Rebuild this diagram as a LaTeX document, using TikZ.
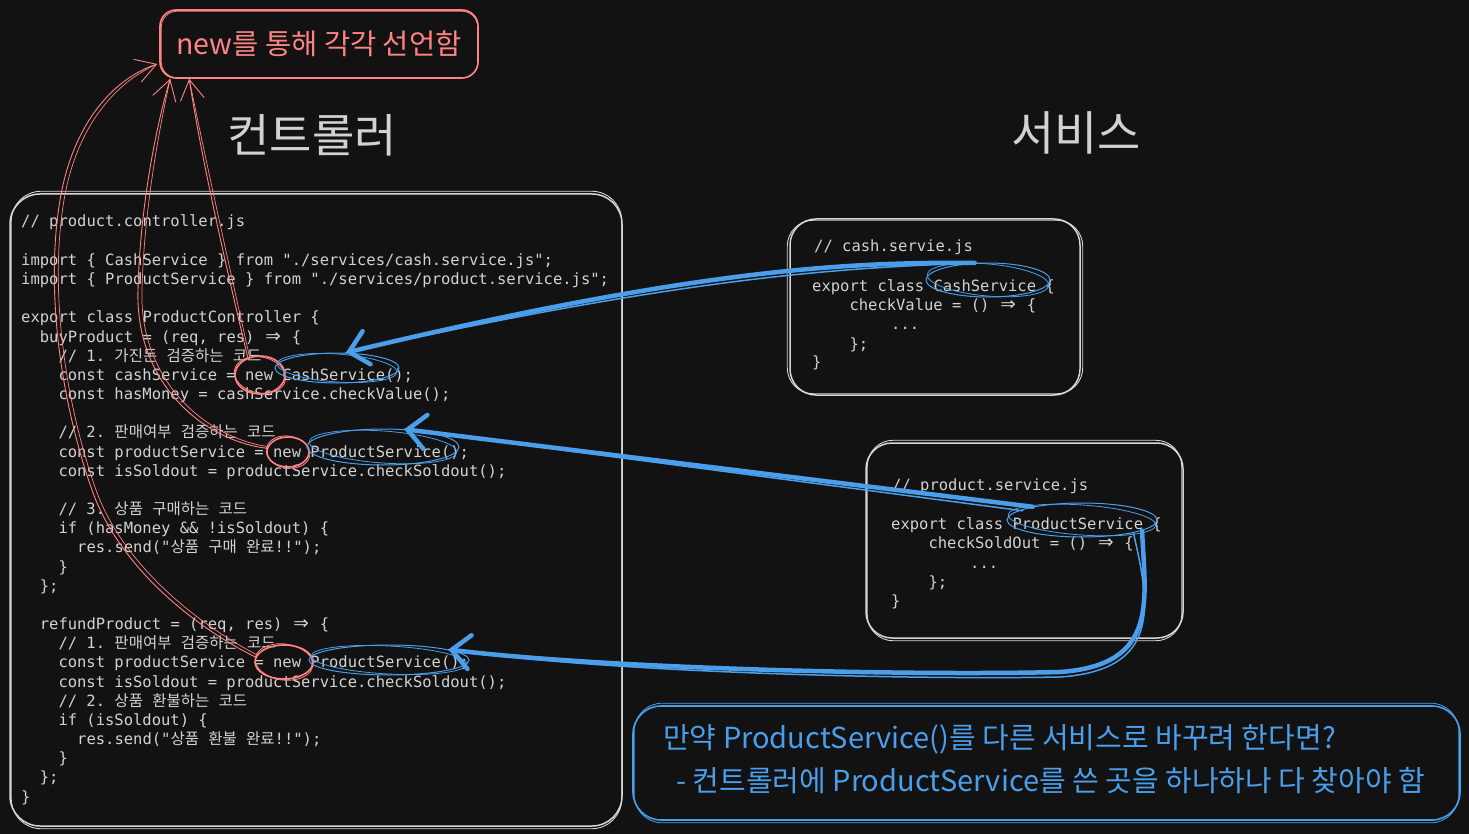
\documentclass[tikz,border=0pt]{standalone}
\usepackage{fontspec}
\usetikzlibrary{arrows.meta,shapes.geometric,calc}
\setmainfont{Noto Sans CJK KR}
\setmonofont{DejaVu Sans Mono}
\newfontfamily\krfont{Noto Sans CJK KR}
\newfontfamily\handfont{Noto Sans CJK KR}
\newfontfamily\symfont{DejaVu Sans}[Scale=1.2]
\newcommand\kr[1]{{\krfont #1}}
\newcommand\darr{\makebox[1.204em]{\symfont ⇒}}
\definecolor{bgcol}{HTML}{121212}
\definecolor{codegray}{HTML}{D2D2D2}
\definecolor{boxgray}{HTML}{D6D6D6}
\definecolor{redc}{HTML}{FF8383}
\definecolor{bluec}{HTML}{4A9EEA}
\tikzset{
  code/.style={font=\ttfamily\fontsize{15.5}{19}\selectfont, text=codegray, anchor=base west, inner sep=0pt},
  panel/.style={draw=boxgray, line width=1.5pt, rectangle, inner sep=0pt},
  panel2/.style={draw=boxgray, line width=0.9pt},
  redring/.style={ellipse, draw=redc, line width=1.6pt, inner sep=0pt},
  bluering/.style={ellipse, draw=bluec, line width=1pt, inner sep=0pt},
  redlink/.style={draw=redc, line width=0.9pt, -{Straight Barb[length=20pt,width=24pt]}},
  redlink2/.style={draw=redc, line width=0.7pt},
  bluelink/.style={draw=bluec, line width=4.5pt, line cap=round, -{Straight Barb[length=18pt,width=34pt,line cap=round]}},
  bluelink2/.style={draw=bluec, line width=1.5pt, line cap=round},
  hand/.style={inner sep=0pt}
}
\begin{document}
\begin{tikzpicture}[x=1pt,y=-1pt]
\fill[bgcol] (0,0) rectangle (1469,834);
\useasboundingbox (0,0) rectangle (1469,834);

% ---------- titles ----------
\node[hand, text=codegray, font=\handfont\fontsize{46}{54}\selectfont] (ctrltitle) at (312,135) {컨트롤러};
\node[hand, text=codegray, font=\handfont\fontsize{47}{54}\selectfont] (svctitle) at (1076,133) {서비스};

\node[draw=redc, line width=1.6pt, rounded corners=16pt, minimum width=318pt, minimum height=68pt, inner sep=0pt,
      text=redc, font=\handfont\fontsize{28.5}{32}\selectfont] (title) at (319,44) {new를 통해 각각 선언함};
\draw[redc, line width=0.8pt, rounded corners=16pt] ($(title.north west)+(2,2)$) rectangle ($(title.south east)+(-1,-1)$);

% ---------- panels ----------
\node[panel, rounded corners=30pt, minimum width=612pt, minimum height=632pt] (ctrl) at (316,510) {};
\draw[panel2, rounded corners=30pt] ($(ctrl.north west)+(2,-2)$) rectangle ($(ctrl.south east)+(-1,2)$);

\node[panel, rounded corners=26pt, minimum width=290pt, minimum height=176pt] (cash) at (935,307) {};
\draw[panel2, rounded corners=26pt] ($(cash.north west)+(-2,2)$) rectangle ($(cash.south east)+(2,-2)$);

\node[panel, rounded corners=26pt, minimum width=317pt, minimum height=195pt] (prod) at (1024.5,540.5) {};
\draw[panel2, rounded corners=26pt] ($(prod.north west)+(2,-2)$) rectangle ($(prod.south east)+(-2,2)$);

\node[draw=bluec, line width=1.6pt, rounded corners=28pt, minimum width=827pt, minimum height=114pt, inner sep=0pt] (note) at (1046.5,763) {};
\draw[bluec, line width=0.8pt, rounded corners=28pt] ($(note.north west)+(2,-2)$) rectangle ($(note.south east)+(-2,2)$);

% ---------- controller code ----------
\node[code] (l00) at (21,227)   {// product.controller.js};
\node[code] (l02) at (21,265.3) {import \{ CashService \} from "./services/cash.service.js";};
\node[code] (l03) at (21,284.5) {import \{ ProductService \} from "./services/product.service.js";};
\node[code] (l05) at (21,322.9) {export class ProductController \{};
\node[code] (l06) at (39.7,342.0) {buyProduct = (req, res) \darr{} \{};
\node[code] (l07) at (58.3,361.2) {// 1. \kr{가진돈} \kr{검증하는} \kr{코드}};
\node[code] (l08) at (58.3,380.4) {const cashService = new CashService();};
\node[code] (l09) at (58.3,399.5) {const hasMoney = cashService.checkValue();};
\node[code] (l11) at (58.3,437.9) {// 2. \kr{판매여부} \kr{검증하는} \kr{코드}};
\node[code] (l12) at (58.3,457.0) {const productService = new ProductService();};
\node[code] (l13) at (58.3,476.2) {const isSoldout = productService.checkSoldout();};
\node[code] (l15) at (58.3,514.6) {// 3. \kr{상품} \kr{구매하는} \kr{코드}};
\node[code] (l16) at (58.3,533.7) {if (hasMoney \&\& !isSoldout) \{};
\node[code] (l17) at (77,552.9)   {res.send("\kr{상품} \kr{구매} \kr{완료}!!");};
\node[code] (l18) at (58.3,572.1) {\}};
\node[code] (l19) at (39.7,591.2) {\};};
\node[code] (l21) at (39.7,629.6) {refundProduct = (req, res) \darr{} \{};
\node[code] (l22) at (58.3,648.7) {// 1. \kr{판매여부} \kr{검증하는} \kr{코드}};
\node[code] (l23) at (58.3,667.9) {const productService = new ProductService();};
\node[code] (l24) at (58.3,687.1) {const isSoldout = productService.checkSoldout();};
\node[code] (l25) at (58.3,706.3) {// 2. \kr{상품} \kr{환불하는} \kr{코드}};
\node[code] (l26) at (58.3,725.4) {if (isSoldout) \{};
\node[code] (l27) at (77,744.6)   {res.send("\kr{상품} \kr{환불} \kr{완료}!!");};
\node[code] (l28) at (58.3,763.8) {\}};
\node[code] (l29) at (39.7,782.9) {\};};
\node[code] (l30) at (21,802.1)   {\}};

% ---------- cash service code ----------
\node[code] (s1) at (814,252)   {// cash.servie.js};
\node[code] (s2) at (812,291)   {export class CashService \{};
\node[code] (s3) at (849.3,310) {checkValue = () \darr{} \{};
\node[code] (s4) at (891,329)   {...};
\node[code] (s5) at (849.3,349) {\};};
\node[code] (s6) at (812,367)   {\}};

% ---------- product service code ----------
\node[code] (p1) at (892,490)   {// product.service.js};
\node[code] (p2) at (891,529)   {export class ProductService \{};
\node[code] (p3) at (928.3,548) {checkSoldOut = () \darr{} \{};
\node[code] (p4) at (970,568)   {...};
\node[code] (p5) at (928.3,587) {\};};
\node[code] (p6) at (891,606)   {\}};

% ---------- note text ----------
\node[hand, anchor=base west, text=bluec, font=\handfont\fontsize{29}{33}\selectfont] (note1) at (663,748)
  {만약 ProductService()를 다른 서비스로 바꾸려 한다면?};
\node[hand, anchor=base west, text=bluec, font=\handfont\fontsize{29}{33}\selectfont] (note2) at (676,791)
  {- 컨트롤러에 ProductService를 쓴 곳을 하나하나 다 찾아야 함};

% ---------- rings ----------
\node[redring, minimum width=50pt, minimum height=38pt] (rc1) at (260,375) {};
\draw[redc, line width=0.8pt, rotate around={-12:(rc1.center)}] (rc1.center) ellipse [x radius=26pt, y radius=18pt];
\node[redring, minimum width=42pt, minimum height=30pt] (rc2) at (288,452) {};
\draw[redc, line width=0.8pt, rotate around={-10:(rc2.center)}] (rc2.center) ellipse [x radius=22pt, y radius=16pt];
\node[redring, minimum width=58pt, minimum height=34pt] (rc3) at (284,662) {};
\draw[redc, line width=0.8pt, rotate around={-8:(rc3.center)}] (rc3.center) ellipse [x radius=29pt, y radius=18pt];

\node[bluering, minimum width=124pt, minimum height=30pt] (e1) at (337,368) {};
\draw[bluec, line width=0.8pt, rotate around={-4:(e1.center)}] (e1.center) ellipse [x radius=60pt, y radius=14pt];
\node[bluering, minimum width=152pt, minimum height=36pt] (e2) at (383,447) {};
\draw[bluec, line width=0.8pt, rotate around={-4:(e2.center)}] (e2.center) ellipse [x radius=74pt, y radius=16pt];
\node[bluering, minimum width=160pt, minimum height=30pt] (e3) at (389,660) {};
\draw[bluec, line width=0.8pt, rotate around={-3:(e3.center)}] (e3.center) ellipse [x radius=78pt, y radius=14pt];
\node[bluering, minimum width=124pt, minimum height=34pt] (e4) at (988,280) {};
\draw[bluec, line width=0.8pt, rotate around={-5:(e4.center)}] (e4.center) ellipse [x radius=61pt, y radius=16pt];
\node[bluering, minimum width=150pt, minimum height=34pt] (e5) at (1082,520) {};
\draw[bluec, line width=0.8pt, rotate around={-4:(e5.center)}] (e5.center) ellipse [x radius=74pt, y radius=15pt];

% ---------- red connectors ----------
\draw[redlink] (rc1.125) .. controls (222,250) and (200,150) .. ($(title.south west)+(30,0)$);
\draw[redlink2] (rc1.120) .. controls (226,252) and (204,152) .. ($(title.south west)+(30,0)$);

\draw[redlink] (rc2.170) .. controls (200,440) and (135,380) .. (138,290)
   .. controls (140,210) and (155,130) .. ($(title.south west)+(11,0)$);
\draw[redlink2] (rc2.165) .. controls (203,437) and (139,378) .. (142,290)
   .. controls (144,210) and (159,130) .. ($(title.south west)+(11,0)$);

\draw[redlink] (rc3.170) .. controls (200,630) and (120,570) .. (92,490)
   .. controls (61,402) and (45,290) .. (60,200)
   .. controls (72,128) and (110,80) .. ($(title.west)+(-2,20)$);
\draw[redlink2] (rc3.165) .. controls (203,627) and (124,568) .. (96,490)
   .. controls (65,402) and (49,290) .. (64,200)
   .. controls (76,130) and (112,84) .. ($(title.west)+(-2,20)$);

% ---------- blue connectors ----------
\draw[bluelink] (e4.128) .. controls (850,262) and (700,268) .. (e1.60);
\draw[bluelink2] (e4.132) .. controls (850,268) and (700,274) .. (e1.60);

\draw[bluelink] (e5.165) -- (e2.40);
\draw[bluelink2] ($(e5.165)+(-10,4)$) -- (e2.40);

\draw[bluelink] (e5.-10) .. controls (1145,600) and (1160,665) .. (1060,672)
   .. controls (900,676) and (600,668) .. (e3.10);
\draw[bluelink2] (e5.-14) .. controls (1150,605) and (1162,670) .. (1060,677)
   .. controls (900,680) and (600,672) .. (e3.10);
\end{tikzpicture}
\end{document}
